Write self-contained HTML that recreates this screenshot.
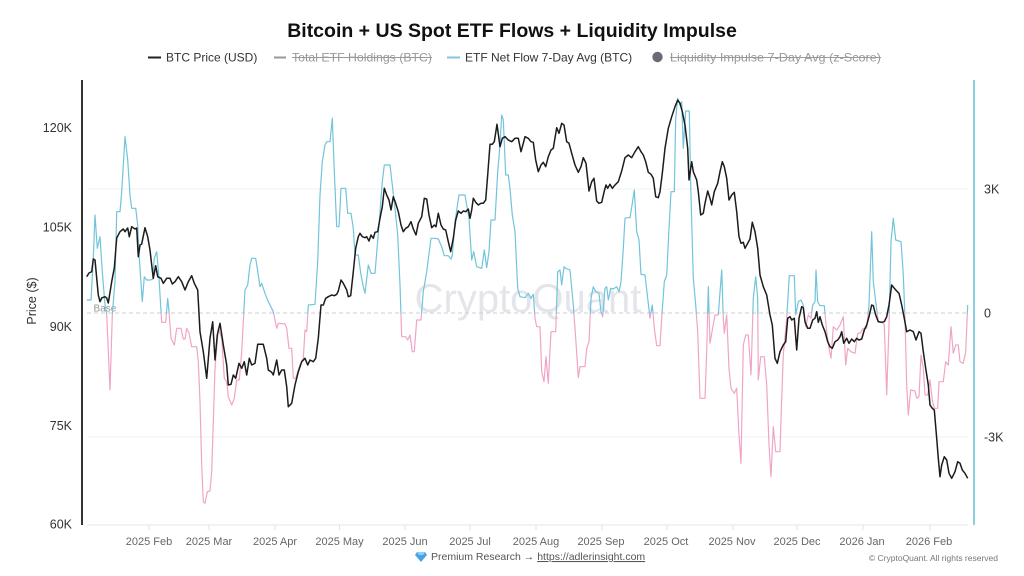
<!DOCTYPE html>
<html>
<head>
<meta charset="utf-8">
<style>
  html, body { margin:0; padding:0; background:#ffffff; }
  body { width:1024px; height:576px; overflow:hidden; }
  svg { display:block; font-family:"Liberation Sans", Arial, sans-serif; }
</style>
</head>
<body>
<svg width="1024" height="576" viewBox="0 0 1024 576" xmlns="http://www.w3.org/2000/svg">
  <defs>
    <clipPath id="above"><rect x="80" y="0" width="900" height="313.5"/></clipPath>
    <clipPath id="below"><rect x="80" y="313.5" width="900" height="262"/></clipPath>
    <polyline id="etf" points="86.7,300 91,300 93.3,258.3 95,215 97.3,248.3 100,236.7 102.3,271.7 105,305 106.7,314 110,390 112.3,315 115,281.7 116.7,211.7 120,211.7 121.7,191.7 123.3,165 125,136.7 127.7,160 130,195 131.7,208.3 135.7,208.3 137.7,225 139.3,258.3 142.3,301.7 144.3,276.7 146.7,280 150,280 152.7,279.3 154.3,258.3 156.7,251.7 159,278.3 161.7,322.3 165.7,322.3 167.7,298.3 169,311.7 171,338.3 174.3,345 176.7,328.3 181,328.3 183.3,339 185,339 186.7,328.3 189,333.3 191.7,346.7 196.7,346.7 198.3,361.7 200,401.7 201.7,465 203.3,501.7 205,503.3 207.3,491.7 210,491 211.7,471.7 215,368.3 218.3,328.3 221.7,338.3 224.3,378.3 226.7,381.7 228.3,396.7 231.7,405 234.3,398.3 236.7,380 239.3,380 241.7,351.7 243.3,321.7 245,290 247.7,285 250,265 251.7,258.3 255.7,258.3 258.3,275 260,286.7 261.7,283.3 265,293.3 268.3,301.7 273.3,311.7 276.7,328.3 278.3,323.3 285,324 286.7,328.3 289,348.3 291.7,348.3 293.3,378.3 295.7,378.3 298.3,370 300,365 303.3,358.3 305,330 306.7,331.7 308.3,305 315,304.3 317.7,261.7 320,195 322.3,161.7 325,145 326.7,141.7 330,141.7 332.3,118.3 334.3,171.7 336.7,226.7 339,226.7 341,188.3 345.7,188.3 347.7,213.3 351,213.3 353.3,228.3 355,255 358.3,255 361,275 363.3,286.7 365,293.3 368.3,265 371,273.3 375,273.3 379,225 382.3,181.7 384.3,165 390,165 392.3,185 395,208.3 397.7,235 400,285 401.7,336.7 405.7,336.7 407.7,340 410,335 412.3,351.7 414.3,351.7 416.7,320 421,320 423.3,291.7 426.7,271.7 431,238.3 435,238.3 438.3,239 441.7,246.7 444.3,255.7 448.3,255.7 451,259 452.3,255.7 455,221.7 459,195 465,195 466.7,205 469,218.3 471.7,260 473.7,251.7 476.7,266.7 481.7,268.3 484.3,250 486.7,267.7 489,251.7 491,220 495,220 497.7,171.7 500,145 501.7,115 503.3,120 505.7,175 508.3,175 510,188.3 512.3,215 515,231.7 517.7,288.3 520,296.7 525,297.7 528.3,293.3 531,298.3 533.3,294.3 535,318.3 536.7,326.7 540,326.7 541.7,371.7 544,381.7 546,356.7 548.3,383.3 551,331.7 555.7,331.7 557.7,271.7 560,270 561.7,285 564,266.7 565.7,268.3 570,270 573.3,305 575.7,338.3 578.3,377.7 580,366.7 585,366.7 586.7,348.3 589,341.7 591,298.3 593.3,286.7 595.7,291.7 599,293.3 601,311.7 602.7,316.7 605,288.3 606.7,286.7 608.3,300 610.7,288.3 613.3,289 616.7,286.7 619,291.7 621,281.7 623.3,248.3 625,218.3 626.7,217.7 630,217.7 632.3,203.3 634.3,190 636.7,231.7 639,240 641,274.3 645,275 647.7,298.3 650,318.3 652.3,305 654.3,328.3 656.7,345.7 660,345.7 661.7,318.3 664.3,281.7 666.7,275 669,228.3 671,191.7 674.3,191.7 675.7,118.3 677.7,98.3 680,105 681.7,101.7 683.3,148.3 685.7,111 689.3,111 690.7,185 693.3,278.3 695.7,305 697.7,331.7 700,398.3 705,398.3 706.7,351.7 708.3,286.7 710,343.3 712.3,330 715,315 718.3,315 721.7,270 723.3,318.3 724.3,333.3 726.7,315 729,368.3 731,388.3 734.3,393.3 736.7,388.3 739,435 741,463.3 743.3,345 745.7,335 748.3,335 751,375 753.3,298.3 755.7,276.7 757.7,298.3 758.3,380 760.7,356.7 764.3,356.7 766.7,385 769,445 771,476.7 773.3,426.7 775.7,451.7 780,451.7 781.7,398.3 783.3,355 786.7,318.3 789.3,275.7 794.3,275.7 795.7,315 798.3,301.7 801,300 803.3,305 805.7,326.7 808.3,315 811,318.3 812.7,305 815,301.7 816,270 817.7,301.7 820,305.7 824.3,305.7 826.7,331.7 829,348.3 831,358.3 833.3,326.7 836.7,330 840,325 843.3,316.7 845.7,365 847.7,348.3 851,351.7 855,353.3 857.7,333.3 860,333.3 863.3,328.3 866.7,328.3 869,305 871.7,231.7 873.3,281.7 875.7,301.7 878.3,321.7 882.3,322.3 884.3,325 886.7,395 889,325 891,241.7 893.3,218.3 895.7,240 901,241.7 903.3,275 905,318.3 906.7,385 908.3,415 910.7,390 915,391 916.7,398.3 919,396.7 921,355 923.3,368.3 925,395 927.7,395 930,380 932.3,400 934.3,408.3 937.7,408.3 939,381.7 943.3,381.7 945.7,361.7 948.3,365 951,326.7 953.3,353.3 955.7,345 958.3,345 960,361.7 963.3,363.3 965.7,351.7 967.7,305"/>
  </defs>
  <rect x="0" y="0" width="1024" height="576" fill="#ffffff"/>

  <!-- Title -->
  <text x="512" y="37" text-anchor="middle" font-size="19.5" font-weight="bold" fill="#111">Bitcoin + US Spot ETF Flows + Liquidity Impulse</text>

  <!-- Legend -->
  <line x1="148" y1="57.5" x2="161" y2="57.5" stroke="#222" stroke-width="2"/>
  <text x="166" y="61.5" font-size="12" fill="#333">BTC Price (USD)</text>
  <line x1="274" y1="57.5" x2="286" y2="57.5" stroke="#999" stroke-width="2"/>
  <text x="292" y="61.5" font-size="12" fill="#999" textLength="140" lengthAdjust="spacingAndGlyphs">Total ETF Holdings (BTC)</text>
  <line x1="292" y1="57.5" x2="432" y2="57.5" stroke="#999" stroke-width="1"/>
  <line x1="447" y1="57.5" x2="460" y2="57.5" stroke="#7ec8dc" stroke-width="2"/>
  <text x="465" y="61.5" font-size="12" fill="#333">ETF Net Flow 7-Day Avg (BTC)</text>
  <circle cx="657.5" cy="57" r="5.2" fill="#6b6b78"/>
  <text x="670" y="61.5" font-size="12" fill="#999" textLength="211" lengthAdjust="spacingAndGlyphs">Liquidity Impulse 7-Day Avg (z-Score)</text>
  <line x1="670" y1="57.5" x2="881" y2="57.5" stroke="#999" stroke-width="1"/>

  <!-- Watermark -->
  <text x="528" y="312" text-anchor="middle" font-size="40" fill="#dfe0e6" fill-opacity="0.85">CryptoQuant</text>

  <!-- Grid -->
  <line x1="87" y1="189" x2="968" y2="189" stroke="#f0f0f0" stroke-width="1"/>
  <line x1="87" y1="437" x2="968" y2="437" stroke="#f0f0f0" stroke-width="1"/>

  <!-- X axis -->
  <line x1="87" y1="525" x2="968" y2="525" stroke="#e6e6e6" stroke-width="1"/>
  <g stroke="#e0e0e0" stroke-width="1">
    <line x1="149" y1="525" x2="149" y2="530"/>
    <line x1="209" y1="525" x2="209" y2="530"/>
    <line x1="275" y1="525" x2="275" y2="530"/>
    <line x1="339.5" y1="525" x2="339.5" y2="530"/>
    <line x1="405" y1="525" x2="405" y2="530"/>
    <line x1="470" y1="525" x2="470" y2="530"/>
    <line x1="536" y1="525" x2="536" y2="530"/>
    <line x1="602" y1="525" x2="602" y2="530"/>
    <line x1="667" y1="525" x2="667" y2="530"/>
    <line x1="733" y1="525" x2="733" y2="530"/>
    <line x1="797" y1="525" x2="797" y2="530"/>
    <line x1="863" y1="525" x2="863" y2="530"/>
    <line x1="930" y1="525" x2="930" y2="530"/>
  </g>
  <g font-size="11" fill="#666" text-anchor="middle">
    <text x="149" y="545">2025 Feb</text>
    <text x="209" y="545">2025 Mar</text>
    <text x="275" y="545">2025 Apr</text>
    <text x="339.5" y="545">2025 May</text>
    <text x="405" y="545">2025 Jun</text>
    <text x="470" y="545">2025 Jul</text>
    <text x="536" y="545">2025 Aug</text>
    <text x="601" y="545">2025 Sep</text>
    <text x="666" y="545">2025 Oct</text>
    <text x="732" y="545">2025 Nov</text>
    <text x="797" y="545">2025 Dec</text>
    <text x="862" y="545">2026 Jan</text>
    <text x="929" y="545">2026 Feb</text>
  </g>

  <!-- Base line -->
  <line x1="87" y1="313" x2="968" y2="313" stroke="#cfcfcf" stroke-width="1" stroke-dasharray="4,3"/>
  <text x="93.5" y="311.5" font-size="10" fill="#999">Base</text>

  <!-- ETF Net Flow (cyan above, pink below) -->
  <g fill="none" stroke-width="1.2" stroke-linejoin="round">
    <use href="#etf" clip-path="url(#above)" stroke="#72c4da"/>
    <use href="#etf" clip-path="url(#below)" stroke="#f0a5c6"/>
  </g>

  <!-- BTC Price -->
  <polyline fill="none" stroke="#1c1c1c" stroke-width="1.5" stroke-linejoin="round" points="86.7,276.7 89,273 91.7,271.7 93.3,259 95,260 98.3,295 100,301.7 101.7,298 105,296.7 106.7,298 108.3,303 111.7,281.7 114.3,268 116.7,238 120,231.7 123.3,229 125,231.7 127.7,228 129.3,236.7 131.7,226.7 135,229 136.7,228 138.3,256.7 140,245 141.7,244 145,227.7 147.7,236.7 150,250 151.7,265 153.3,278.3 155.7,265.7 157.7,276.7 161,278.3 163.3,283.3 166.7,278.3 170,278.3 172.3,284 175,281.7 178.3,276.7 181.7,281.7 185,290 188.3,281.7 191.7,275.7 194.3,283.3 197.7,290 200,331.7 203.3,351.7 206.7,378.3 210,338.3 212.7,321.7 215,360 217.3,335 220,323.3 223.3,345 226.7,365 228.3,385 231,384.3 233.3,375 235.7,378.3 239,363.3 241.7,368.3 244.3,361.7 246.7,375 249.3,358.3 251.7,365 255,363.3 257.7,344.3 263.3,344.3 266.7,358.3 268.3,370 271.7,372.3 273.3,375 276.7,360 279,375 281.7,370 284.3,370 286.7,386.7 288.3,406.7 291.7,403.3 295,385 298.3,371.7 301.7,361.7 305,358.3 307.7,365 310,360 313.3,361.7 315.7,358.3 318.3,338.3 321,305 323.3,305 325.7,298.3 328.3,296.7 331.7,295 334.3,295.7 336.7,294.3 338.3,291 341,280 343.3,283.3 346.7,290 348.3,296.7 350.7,295.7 353.3,271.7 355.7,248.3 358.3,236.7 360,233.3 362.3,236.7 365,237.7 366.7,236.7 369,241 371,235 373.3,238.3 375,232.3 377.7,231.7 380,218.3 382.3,206.7 384.3,188.3 386.7,195 389,200 391,210 393.3,196.7 395.7,203.3 398.3,211.7 401,225 403.3,231.7 405.7,228.3 408.3,226.7 411,221.7 413.3,229 416,235 418.3,223.3 421.7,216.7 424.3,198.3 426.7,199 429,215 431.7,227.7 434.3,225 436,226.7 438.3,213.3 441,225 443.3,229 445.7,230 448.3,241.7 450.7,251.7 453.3,238.3 455.7,220 458.3,211 461,213.3 463.3,211 465.7,211.7 468.3,209 470,218.3 471.7,210 473.3,198.3 475.7,202.3 478.3,205 481,203.3 483.3,203.3 485.7,200 487.7,175 490,144.3 492.3,144.3 494.3,141.7 497,124.3 500,146.7 502.3,138.3 505,136.7 508.3,140 511.7,141.7 515,138.3 518.3,138.3 521,151.7 523.3,143.3 525,136.7 528.3,138.3 531,141.7 533.3,142.3 535.7,160 538.3,171.7 541,165 543.3,162.3 545.7,166.7 548.3,156.7 551,150 553.3,148.3 556.7,127.7 559,133.3 561.7,123.3 564,125 566.7,141.7 569,143.3 571.7,153.3 575,165 578.3,172.3 581,166.7 583.3,157.7 586,163.3 589,191 591.7,181.7 594,178.3 596.7,201 599,203.3 601.7,202.3 604.3,191 606,185 607.7,188.3 610,184.3 612.3,188.3 615,185 618.3,181.7 621.7,171 625,157.7 628.3,155 631.7,157.7 635,151.7 638.3,146.7 641,151.7 643.3,155 645.7,161.7 648.3,172.3 651,174.3 653.3,178.3 655.7,196.7 658.3,197.7 660,191.7 662.3,173.3 665,148.3 668.3,128.3 671.7,116.7 675,106.7 677.7,100 680,103.3 682.3,111.7 685,125 687.7,148.3 689,180 691.7,161.7 693.3,171.7 696.7,180 698.3,191.7 700.7,215 703.3,213.3 705,203.3 707.7,191 710,198.3 711.7,205 714.3,191.7 717.7,183.3 720,171.7 722.3,161.7 724.3,166.7 726.7,178.3 729,200 731.7,195 734.3,192.3 736.7,211.7 739,236.7 741,243.3 743.3,242.3 745,248.3 747.7,243.3 750,239 752.3,222.3 755,231.7 757.7,248.3 760,275 763.3,286.7 766.7,295 770,315 772.3,325 775,358.3 777.3,363.3 780,351.7 783.3,345 785.7,341.7 787.7,318.3 790,316.7 791.7,320 794.3,318.3 796.7,350 799,318.3 801.7,306.7 803.3,307.7 805,321.7 807.7,328.3 810,328.3 812.7,320 815,318.3 816.7,311.7 818.3,322.3 820,316.7 822.3,325 825,331.7 827.7,341.7 830,346.7 832.3,348.3 835,341.7 837.7,340 840,336.7 841.7,331.7 843.7,343.3 846.7,338.3 849,343.3 851.7,339 854.3,341.7 856.7,338.3 859,340 861.7,339 864.3,330 866.7,325 869,316.7 871.7,305 873.3,305.7 875.7,315 878.3,321.7 881.7,322.3 884.3,321.7 886.7,316.7 889,305 891.7,285 894.3,288.3 896.7,291 899,293.3 901.7,305 904.3,318.3 906.7,331.7 910,330 913.3,331.7 916,340 919,331.7 921,333.3 923.3,351.7 925.7,368.3 928.3,385 930,405 932.3,408.3 934.3,410 936.7,438.3 938.3,458.3 940,476.7 941.7,465 944.3,456.7 946.7,460 949,473.3 951.7,478.3 955,471.7 957.7,461.7 960,463.3 962.3,470 965,473.3 967.7,478.3"/>

  <!-- Left axis -->
  <line x1="82" y1="80" x2="82" y2="525" stroke="#333" stroke-width="2"/>
  <g font-size="12.5" fill="#333" text-anchor="end">
    <text x="72" y="132">120K</text>
    <text x="72" y="231.5">105K</text>
    <text x="72" y="331">90K</text>
    <text x="72" y="430">75K</text>
    <text x="72" y="528.5">60K</text>
  </g>
  <text transform="translate(36,301) rotate(-90)" text-anchor="middle" font-size="12.5" fill="#333">Price ($)</text>

  <!-- Right axis -->
  <line x1="974" y1="80" x2="974" y2="525" stroke="#8ccfe0" stroke-width="2"/>
  <g font-size="12.5" fill="#333" text-anchor="start">
    <text x="984" y="193.5">3K</text>
    <text x="984" y="317.5">0</text>
    <text x="984" y="441.5">-3K</text>
  </g>

  <!-- Footer -->
  <polygon points="417,552 425,552 427,555 421,562 415,555" fill="#4aa3e0"/>
  <polygon points="417,552 425,552 423,555 419,555" fill="#8fd0f5"/>
  <text x="431" y="560" font-size="10.5" fill="#555">Premium Research → <tspan text-decoration="underline">https://adlerinsight.com</tspan></text>
  <text x="998" y="561" text-anchor="end" font-size="8.5" fill="#777">© CryptoQuant. All rights reserved</text>
</svg>
</body>
</html>
